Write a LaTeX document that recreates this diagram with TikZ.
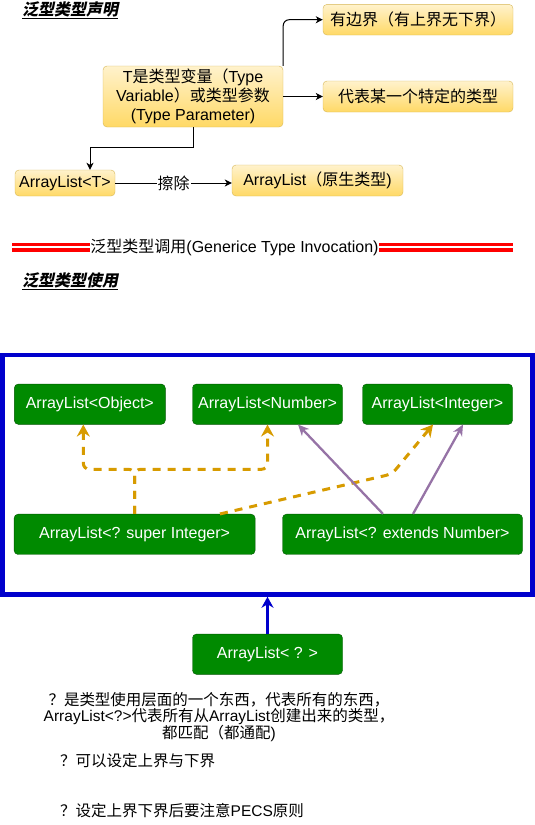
\documentclass[tikz,border=0pt]{standalone}
\usepackage{fontspec}
\setmainfont{Liberation Sans}
\newfontfamily\zh{Noto Sans CJK SC}
\newfontfamily\zhti[FakeSlant=0.2]{Noto Sans CJK SC}
\usetikzlibrary{arrows.meta}
\definecolor{ytop}{HTML}{FFF2CC}
\definecolor{ybot}{HTML}{FFD966}
\definecolor{yline}{HTML}{D6B656}
\definecolor{gfill}{HTML}{008A00}
\definecolor{gline}{HTML}{005700}
\definecolor{orng}{HTML}{D79B00}
\definecolor{purp}{HTML}{9673A6}
\definecolor{blu}{HTML}{0000CC}
\newcommand\fs{\fontsize{16}{19}\selectfont}
\begin{document}
\begin{tikzpicture}[x=1pt,y=-1pt,
  ybox/.style={draw=yline, top color=ytop, bottom color=ybot, rounded corners=4pt, inner sep=0pt, font=\fs, text=black},
  gbox/.style={draw=gline, fill=gfill, rounded corners=4pt, inner sep=0pt, text=white, font=\fs, minimum height=40.3pt},
  blk/.style={draw=black, line width=1pt, -{Stealth[length=7pt,width=7pt,inset=2pt]}},
  odash/.style={draw=orng, line width=3pt, dash pattern=on 8pt off 7pt, rounded corners=6pt, -{Stealth[length=12pt,width=13pt,inset=4pt]}},
  parrow/.style={draw=purp, line width=2.3pt, -{Stealth[length=11pt,width=10pt,inset=3.5pt]}},
  barrow/.style={draw=blu, line width=3pt, -{Stealth[length=11pt,width=12pt,inset=3.5pt]}},
  title/.style={font=\fs, inner sep=0pt, anchor=west},
  note/.style={font=\fs, inner sep=0pt}
]
\useasboundingbox (0,0) rectangle (535,825);

% titles
\node[title] (t1) at (22,10) {\underline{\zhti\bfseries 泛型类型声明}};
\node[title] (t2) at (22,281) {\underline{\zhti\bfseries 泛型类型使用}};

% declaration part
\node[ybox, minimum width=190pt, minimum height=30.6pt] (bound) at (418,19.7) {\zh 有边界（有上界无下界）};
\node[ybox, minimum width=180pt, minimum height=61pt, align=center] (T) at (193,96.5) {T{\zh 是类型变量（}Type\\Variable{\zh ）或类型参数}\\(Type Parameter)};
\node[ybox, minimum width=190pt, minimum height=31pt] (spec) at (418,96.5) {\zh 代表某一个特定的类型};
\node[ybox, minimum width=100pt, minimum height=26pt] (AT) at (65,183) {ArrayList<T>};
\node[ybox, minimum width=171pt, minimum height=31pt] (raw) at (317.5,180.5) {ArrayList{\zh （原生类型})};

\draw[blk, rounded corners=6pt] (T.north east) |- (bound.west);
\draw[blk] (T.east) -- (spec.west);
\coordinate (tb) at (193,147);
\draw[blk] (T.south) -- (tb) -| ([xshift=25pt]AT.north);
\draw[blk] (AT.east) -- node[fill=white, inner sep=1pt, font=\fs] (erase) {\zh 擦除} (raw.west |- AT.east);

% separator
\draw[red, line width=3.4pt] (12,244.3) -- (513,244.3);
\draw[red, line width=3.4pt] (12,250.1) -- (513,250.1);
\node[fill=white, inner sep=0pt, font=\fs] (inv) at (234.5,247.2) {{\zh 泛型类型调用}(Generice Type Invocation)};

% usage part
\node[draw=blu, line width=4.5pt, minimum width=530pt, minimum height=239.5pt, inner sep=0pt] (frame) at (267.5,474.75) {};
\node[gbox, minimum width=151pt] (obj) at (89.8,404.2) {ArrayList<Object>};
\node[gbox, minimum width=150pt] (num) at (267.5,404.2) {ArrayList<Number>};
\node[gbox, minimum width=150pt] (int) at (437.5,404.2) {ArrayList<Integer>};
\node[gbox, minimum width=241pt] (sup) at (134.6,534.3) {ArrayList<? super Integer>};
\node[gbox, minimum width=240pt] (ext) at (402.5,534.3) {ArrayList<? extends Number>};
\node[gbox, minimum width=150pt] (any) at (267.5,654.2) {ArrayList< ? >};

\coordinate (j) at (134.6,469.3);
\coordinate (w1) at (392,474);
\draw[odash] (sup.north) -- (j) -| ([xshift=-6.5pt]obj.south);
\draw[odash] (sup.north) -- (j) -| (num.south);
\draw[odash] ([xshift=85.4pt]sup.north) -- (w1) -- ([xshift=-4.5pt]int.south);
\draw[parrow] ([xshift=-19.5pt]ext.north) -- ([xshift=30.5pt]num.south);
\draw[parrow] ([xshift=10.5pt]ext.north) -- ([xshift=25.5pt]int.south);
\draw[barrow] (any.north) -- (frame.south);

% notes
\node[note, align=center, font=\fontsize{15.5}{16}\selectfont] (n1) at (219,717) {{\zh ？是类型使用层面的一个东西，代表所有的东西，}\\ArrayList<?>{\zh 代表所有从}ArrayList{\zh 创建出来的类型，}\\{\zh 都匹配（都通配})};
\node[note, anchor=west, font=\fontsize{15.5}{16}\selectfont] (n2) at (60,761) {\zh ？可以设定上界与下界};
\node[note, anchor=west, font=\fontsize{15.5}{16}\selectfont] (n3) at (60,811) {{\zh ？设定上界下界后要注意}PECS{\zh 原则}};
\end{tikzpicture}
\end{document}
